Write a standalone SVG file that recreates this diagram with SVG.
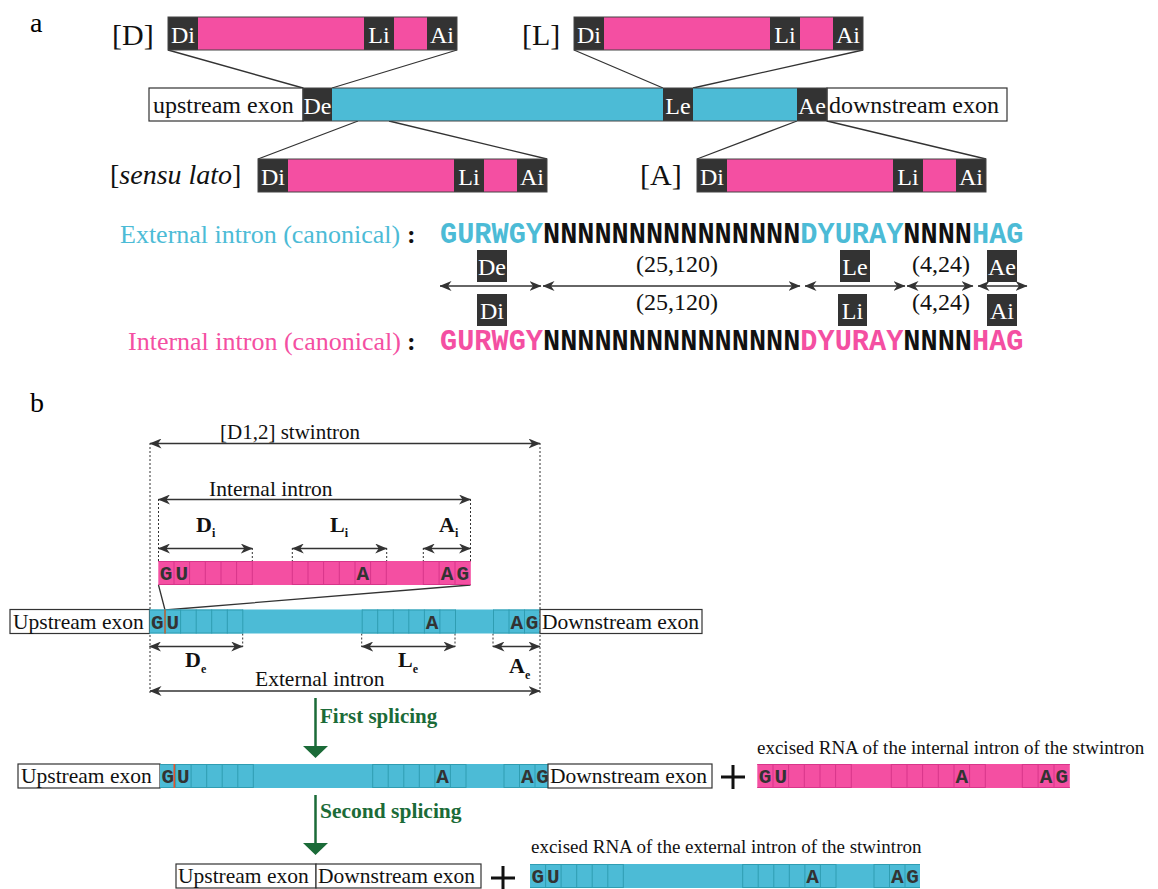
<svg xmlns="http://www.w3.org/2000/svg" xmlns:xlink="http://www.w3.org/1999/xlink" width="1158" height="889" viewBox="0 0 1158 889">
<style>
.serif{font-family:"Liberation Serif","Times New Roman",serif}
.mono{font-family:"Liberation Mono","Courier New",monospace;font-weight:bold}
.dk{fill:#333}
.pk{fill:#F44FA2}
.bl{fill:#4CBBD6}
.wt{fill:#fff}
.box{stroke:#444;stroke-width:1;fill:none}
.exon{fill:#fff;stroke:#333;stroke-width:1.2}
.ln{stroke:#333;stroke-width:1.3;fill:none}
.dot{stroke:#333;stroke-width:1;stroke-dasharray:2,2;fill:none}
.arr{stroke:#333;stroke-width:1.5;fill:none;marker-start:url(#ah);marker-end:url(#ah)}
.lbl{font-family:"Liberation Serif","Times New Roman",serif;font-size:24px;fill:#fff;text-anchor:middle}
.cl{font-family:"Liberation Mono","Courier New",monospace;font-weight:bold;font-size:21px;fill:#333;text-anchor:middle}
.grn{fill:#1b6b38}
</style>
<defs>
<marker id="ah" viewBox="0 0 12 10" refX="11.5" refY="5" markerWidth="12" markerHeight="10" markerUnits="userSpaceOnUse" orient="auto-start-reverse">
<path d="M0,0 L12,5 L0,10 L3.5,5 z" fill="#333"/>
</marker>
<g id="bbar">
<rect width="390" height="24" fill="#4CBBD6"/>
<path d="M0,0.5H93.3M0,23.5H93.3M212.7,0.5H306M212.7,23.5H306M344,0.5H390M344,23.5H390M15.6,0V24M31.1,0V24M46.7,0V24M62.2,0V24M77.8,0V24M93.3,0V24M212.7,0V24M228.2,0V24M243.8,0V24M259.3,0V24M274.9,0V24M290.4,0V24M306,0V24M344,0V24M359.5,0V24M375,0V24" stroke="#2f9db2" stroke-width="1" fill="none"/>
<text class="cl" x="7.8" y="19">G</text>
<text class="cl" x="23.4" y="19">U</text>
<text class="cl" x="282.6" y="19">A</text>
<text class="cl" x="367.3" y="19">A</text>
<text class="cl" x="382.5" y="19">G</text>
</g>
<g id="pbar">
<rect width="312.5" height="24" fill="#F44FA2"/>
<path d="M0,0.5H94M0,23.5H94M134,0.5H228M134,23.5H228M265,0.5H312.5M265,23.5H312.5M15.7,0V24M31.3,0V24M47,0V24M62.7,0V24M78.3,0V24M94,0V24M134,0V24M149.7,0V24M165.3,0V24M181,0V24M196.7,0V24M212.3,0V24M228,0V24M265,0V24M280.8,0V24M296.7,0V24" stroke="#d8358a" stroke-width="1" fill="none"/>
<text class="cl" x="7.8" y="19">G</text>
<text class="cl" x="23.5" y="19">U</text>
<text class="cl" x="204.5" y="19">A</text>
<text class="cl" x="288.7" y="19">A</text>
<text class="cl" x="304.6" y="19">G</text>
</g>
</defs>
<rect width="1158" height="889" fill="#fff"/>

<!-- panel labels -->
<text class="serif" x="30" y="32" font-size="28" fill="#000">a</text>
<text class="serif" x="30" y="412" font-size="28" fill="#000">b</text>

<!-- connectors -->
<g id="connectors">
<path class="ln" d="M168,50L303,88M457,50L332,88M574,50L663,88M863,50L693,88M358,121L258,159M389,121L547,159M797,121L697,159M827,121L986,159"/>
<path class="dot" d="M358,88V121M389,88V121"/>
<path class="arr" d="M440,286H541"/>
<path class="arr" d="M543,286H800"/>
<path class="arr" d="M805,286H905"/>
<path class="arr" d="M907,286H973"/>
<path class="arr" d="M978,286H1027"/>
<path class="arr" d="M150,443.5H540"/>
<path class="arr" d="M158.5,499.5H470.5"/>
<path class="arr" d="M158.5,548.5H252.3"/>
<path class="arr" d="M292.3,548.5H386.7"/>
<path class="arr" d="M423.3,548.5H470.5"/>
<path class="arr" d="M149.5,646.5H242.7"/>
<path class="arr" d="M361.7,646.5H455"/>
<path class="arr" d="M493,646.5H540"/>
<path class="arr" d="M150,691H540"/>
<path class="dot" d="M150,443V693M540,443V693M158.5,499V561M470.5,499V561M252.3,548V561M292.3,548V561M386.7,548V561M423.3,548V561M242.7,633.5V647M361.7,633.5V647M455,633.5V647M493,633.5V647"/>
<path class="ln" d="M158.5,585L165,610M470.5,585L165,610"/>
<path d="M315.5,698V749M315.5,795V846" stroke="#1b6b38" stroke-width="2.5" fill="none"/>
<path class="grn" d="M303,746H328L315.5,758z M303,843H328L315.5,855z"/>
</g>

<!-- part a boxes -->
<g id="introD">
<rect x="168" y="17" width="289" height="33" class="dk"/>
<rect x="198" y="17" width="166" height="33" class="pk"/>
<rect x="394" y="17" width="33" height="33" class="pk"/>
<rect x="168" y="17" width="289" height="33" class="box"/>
<text class="lbl" x="183" y="43">Di</text><text class="lbl" x="379" y="43">Li</text><text class="lbl" x="442" y="43">Ai</text>
<text class="serif" x="112" y="45" font-size="30" fill="#111">[D]</text>
</g>
<g id="introL">
<rect x="574" y="17" width="289" height="33" class="dk"/>
<rect x="604" y="17" width="166" height="33" class="pk"/>
<rect x="800" y="17" width="33" height="33" class="pk"/>
<rect x="574" y="17" width="289" height="33" class="box"/>
<text class="lbl" x="589" y="43">Di</text><text class="lbl" x="785" y="43">Li</text><text class="lbl" x="848" y="43">Ai</text>
<text class="serif" x="522" y="45" font-size="30" fill="#111">[L]</text>
</g>
<g id="introSL">
<rect x="258" y="159" width="289" height="33" class="dk"/>
<rect x="288" y="159" width="166" height="33" class="pk"/>
<rect x="484" y="159" width="33" height="33" class="pk"/>
<rect x="258" y="159" width="289" height="33" class="box"/>
<text class="lbl" x="273" y="185">Di</text><text class="lbl" x="469" y="185">Li</text><text class="lbl" x="532" y="185">Ai</text>
<text class="serif" x="110" y="184" font-size="28" fill="#111">[<tspan font-style="italic">sensu lato</tspan>]</text>
</g>
<g id="introA">
<rect x="697" y="159" width="289" height="33" class="dk"/>
<rect x="727" y="159" width="166" height="33" class="pk"/>
<rect x="923" y="159" width="33" height="33" class="pk"/>
<rect x="697" y="159" width="289" height="33" class="box"/>
<text class="lbl" x="712" y="185">Di</text><text class="lbl" x="908" y="185">Li</text><text class="lbl" x="971" y="185">Ai</text>
<text class="serif" x="640" y="185" font-size="30" fill="#111">[A]</text>
</g>
<g id="mainbar">
<rect x="149" y="88" width="154" height="33" class="exon"/>
<rect x="303" y="88" width="29" height="33" class="dk"/>
<rect x="332" y="88" width="331" height="33" class="bl"/>
<rect x="663" y="88" width="30" height="33" class="dk"/>
<rect x="693" y="88" width="104" height="33" class="bl"/>
<rect x="797" y="88" width="30" height="33" class="dk"/>
<rect x="827" y="88" width="180" height="33" class="exon"/>
<rect x="303" y="88" width="524" height="33" class="box"/>
<text class="serif" x="153" y="113" font-size="24" fill="#111">upstream exon</text>
<text class="lbl" x="317.5" y="114">De</text>
<text class="lbl" x="678" y="114">Le</text>
<text class="lbl" x="812" y="114">Ae</text>
<text class="serif" x="829" y="113" font-size="24" fill="#111">downstream exon</text>
</g>

<!-- sequences -->
<g id="seqExt">
<text class="serif" x="120" y="243" font-size="26" fill="#4CBBD6">External intron (canonical)</text>
<text class="serif" x="407" y="243" font-size="26" font-weight="bold" fill="#111">:</text>
<text class="mono" x="440" y="243" font-size="28.6" fill="#111"><tspan fill="#4CBBD6">GURWGY</tspan>NNNNNNNNNNNNNNN<tspan fill="#4CBBD6">DYURAY</tspan>NNNN<tspan fill="#4CBBD6">HAG</tspan></text>
</g>
<g id="seqInt">
<text class="serif" x="128" y="350" font-size="26" fill="#F44FA2">Internal intron (canonical)</text>
<text class="serif" x="407" y="350" font-size="26" font-weight="bold" fill="#111">:</text>
<text class="mono" x="440" y="350" font-size="28.6" fill="#111"><tspan fill="#F44FA2">GURWGY</tspan>NNNNNNNNNNNNNNN<tspan fill="#F44FA2">DYURAY</tspan>NNNN<tspan fill="#F44FA2">HAG</tspan></text>
</g>
<g id="seqLabels">
<rect x="477" y="250" width="30" height="32" class="dk"/><text class="lbl" x="492" y="275">De</text>
<rect x="477" y="294" width="30" height="32" class="dk"/><text class="lbl" x="492" y="319">Di</text>
<rect x="840" y="250" width="30" height="32" class="dk"/><text class="lbl" x="855" y="275">Le</text>
<rect x="838" y="294" width="29" height="32" class="dk"/><text class="lbl" x="852.5" y="319">Li</text>
<rect x="987" y="250" width="30" height="32" class="dk"/><text class="lbl" x="1002" y="275">Ae</text>
<rect x="987" y="294" width="30" height="32" class="dk"/><text class="lbl" x="1002" y="319">Ai</text>
<text class="serif" x="677" y="272" font-size="24" fill="#111" text-anchor="middle">(25,120)</text>
<text class="serif" x="677" y="310" font-size="24" fill="#111" text-anchor="middle">(25,120)</text>
<text class="serif" x="941" y="272" font-size="24" fill="#111" text-anchor="middle">(4,24)</text>
<text class="serif" x="941" y="310" font-size="24" fill="#111" text-anchor="middle">(4,24)</text>
</g>

<!-- part b -->
<g id="bLabels" class="serif" fill="#111">
<text x="220" y="439" font-size="21">[D1,2] stwintron</text>
<text x="209" y="496" font-size="21.5">Internal intron</text>
<text x="255" y="686" font-size="21.5">External intron</text>
<g font-weight="bold" font-size="22">
<text x="196" y="532">D<tspan font-size="12" dy="5">i</tspan></text>
<text x="330" y="532">L<tspan font-size="12" dy="5">i</tspan></text>
<text x="439" y="532">A<tspan font-size="12" dy="5">i</tspan></text>
<text x="185" y="667">D<tspan font-size="12" dy="6">e</tspan></text>
<text x="398" y="667">L<tspan font-size="12" dy="6">e</tspan></text>
<text x="509" y="673">A<tspan font-size="12" dy="6">e</tspan></text>
</g>
</g>
<g id="internalBar">
<use xlink:href="#pbar" href="#pbar" x="158.3" y="561"/>
</g>
<g id="stwintronRow">
<rect x="10" y="609.5" width="139.5" height="24" class="exon"/>
<text class="serif" x="13" y="629" font-size="21.5" fill="#111">Upstream exon</text>
<use xlink:href="#bbar" href="#bbar" x="149.5" y="609.5"/>
<path d="M165,609.5V633.5" stroke="#b8663a" stroke-width="1.6"/>
<rect x="540" y="609.5" width="162" height="24" class="exon"/>
<text class="serif" x="542" y="629" font-size="21.5" fill="#111">Downstream exon</text>
</g>
<g id="firstSplice">
<text class="serif grn" x="320" y="723" font-size="21" font-weight="bold">First splicing</text>
<rect x="18" y="764" width="142" height="24" class="exon"/>
<text class="serif" x="21" y="783" font-size="21.5" fill="#111">Upstream exon</text>
<use xlink:href="#bbar" href="#bbar" x="160" y="764"/>
<path d="M174.3,764V788" stroke="#e4532a" stroke-width="1.6"/>
<rect x="548" y="764" width="164" height="24" class="exon"/>
<text class="serif" x="550" y="783" font-size="21.5" fill="#111">Downstream exon</text>
<path d="M721,777H745M733,765V789" stroke="#111" stroke-width="3"/>
</g>
<g id="excisedInternal">
<text class="serif" x="757" y="754" font-size="19" fill="#111">excised RNA of the internal intron of the stwintron</text>
<use xlink:href="#pbar" href="#pbar" x="757.3" y="764"/>
</g>
<g id="secondSplice">
<text class="serif grn" x="320" y="818" font-size="21.5" font-weight="bold">Second splicing</text>
<rect x="176" y="864" width="140" height="24" class="exon"/>
<text class="serif" x="178" y="883" font-size="21.5" fill="#111">Upstream exon</text>
<rect x="316" y="864" width="165" height="24" class="exon"/>
<text class="serif" x="318" y="883" font-size="21.5" fill="#111">Downstream exon</text>
<path d="M491,878H515M503,866V890" stroke="#111" stroke-width="3"/>
</g>
<g id="excisedExternal">
<text class="serif" x="531" y="853" font-size="19" fill="#111">excised RNA of the external intron of the stwintron</text>
<use xlink:href="#bbar" href="#bbar" x="530" y="864"/>
</g>
</svg>
